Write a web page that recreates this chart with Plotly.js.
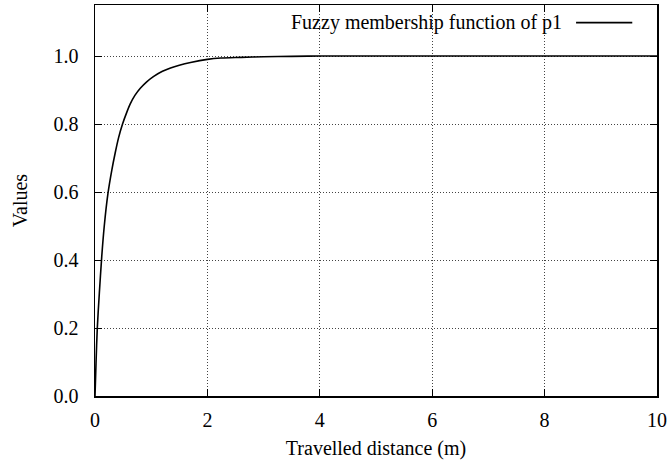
<!DOCTYPE html>
<html>
<head>
<meta charset="utf-8">
<script src="https://cdn.plot.ly/plotly-3.0.1.min.js"></script>
<style>html,body{margin:0;padding:0;background:#fff;}#chart{width:671px;height:465px;}</style>
</head>
<body>
<div id="chart"></div>
<script>
// Values
const distance = [0, 0.018, 0.041, 0.077, 0.12, 0.165, 0.23, 0.3, 0.358, 0.42, 0.49, 0.56, 0.627, 0.71, 0.806, 0.92, 1.045, 1.2, 1.344, 1.5, 1.7, 2.0, 2.24, 2.6, 3.0, 3.5, 4, 5, 6, 7, 8, 9, 10];
const membership = [0, 0.096, 0.2, 0.302, 0.41, 0.5, 0.595, 0.665, 0.714, 0.76, 0.8, 0.832, 0.859, 0.884, 0.905, 0.924, 0.94, 0.955, 0.965, 0.973, 0.981, 0.99, 0.994, 0.996, 0.998, 0.999, 1, 1, 1, 1, 1, 1, 1];
const seriesName = "Fuzzy membership function of p1";
const xTicks = [0, 2, 4, 6, 8, 10];
const yTicks = [0, 0.2, 0.4, 0.6, 0.8, 1.0];

const FONT = "Liberation Serif, Times New Roman, serif";
const FS = 20;

const trace = {
  x: distance, y: membership, type: "scatter", mode: "lines",
  name: seriesName,
  line: {color: "#000", width: 1.6, shape: "spline", smoothing: 0.8},
  showlegend: false
};

const axisCommon = {
  showline: true, linecolor: "#000", linewidth: 1.5, mirror: "allticks",
  ticks: "inside", ticklen: 7, tickcolor: "#000", tickwidth: 1,
  showgrid: true, gridcolor: "#444", griddash: "1px,2px", gridwidth: 1,
  zeroline: false, tickfont: {family: FONT, size: FS, color: "#000"}
};

const layout = {
  width: 671, height: 465,
  margin: {l: 95, r: 14, t: 5, b: 69},
  paper_bgcolor: "#fff", plot_bgcolor: "#fff",
  font: {family: FONT, size: FS, color: "#000"},
  xaxis: Object.assign({}, axisCommon, {
    range: [0, 10], tickvals: xTicks, ticktext: xTicks.map(String),
    ticklabelstandoff: 5,
    title: {text: "Travelled distance (m)", font: {family: FONT, size: FS}, standoff: 11}
  }),
  yaxis: Object.assign({}, axisCommon, {
    range: [0, 1.15], tickvals: yTicks, ticktext: yTicks.map(v => v.toFixed(1)),
    ticklabelstandoff: 11,
    title: {text: "Values", font: {family: FONT, size: FS}, standoff: 20}
  }),
  annotations: [{
    xref: "paper", yref: "paper", x: 0.835, y: 0.955, xanchor: "right", yanchor: "middle",
    text: seriesName, showarrow: false, font: {family: FONT, size: FS, color: "#000"}
  }],
  shapes: [{
    type: "line", xref: "paper", yref: "paper", x0: 0.856, x1: 0.956, y0: 0.955, y1: 0.955,
    line: {color: "#000", width: 1.6}
  }]
};

Plotly.newPlot("chart", [trace], layout, {displayModeBar: false, staticPlot: true});
</script>
</body>
</html>
